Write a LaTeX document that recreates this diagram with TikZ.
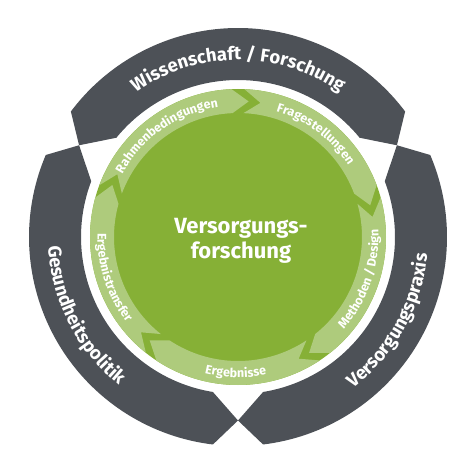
\documentclass[tikz,border=0pt]{standalone}
\usepackage{fontspec}
\setmainfont{Fira Sans}
\usetikzlibrary{decorations.text}
\definecolor{slate}{HTML}{4D5157}
\definecolor{leaf}{HTML}{86B036}
\definecolor{pale}{HTML}{AECB7C}
\newcommand{\ringfont}{\fontsize{18.5}{22}\selectfont\bfseries\color{white}}
\newcommand{\stepfont}{\fontsize{12.5}{14}\selectfont\bfseries\color{white}}
\tikzset{
  ringtext/.style={decorate,decoration={text along path,text align=center,text={|\ringfont|#1}}},
  steptext/.style={decorate,decoration={text along path,text align=center,text={|\stepfont|#1}}}
}
\begin{document}
\begin{tikzpicture}[x=1pt,y=1pt]
  \useasboundingbox (-238,-237) rectangle (236,237);
  % outer ring, three parts
  \foreach \m in {90,210,330}{
    \pgfmathsetmacro{\oa}{\m+60-6.9}
    \pgfmathsetmacro{\ob}{\m-60+6.9}
    \pgfmathsetmacro{\ia}{\m+60-9.2}
    \pgfmathsetmacro{\ib}{\m-60+9.2}
    \pgfmathsetmacro{\ja}{\m+60}
    \pgfmathsetmacro{\jb}{\m-60}
    \fill[slate] (\oa:209) arc[start angle=\oa, end angle=\ob, radius=209]
      -- (\jb:183.5) -- (\ib:157) arc[start angle=\ib, end angle=\ia, radius=157]
      -- (\ja:183.5) -- cycle;
  }
  % green disc and cycle arrows
  \fill[leaf] (0,0) circle[radius=148];
  \foreach \a in {162,90,18,-54,-126}{
    \pgfmathsetmacro{\tailc}{\a-2.5}
    \pgfmathsetmacro{\notch}{\a-9.5}
    \pgfmathsetmacro{\headc}{\a-69.5}
    \pgfmathsetmacro{\headp}{\a-76.5}
    \fill[pale] (\tailc:148) arc[start angle=\tailc, end angle=\headc, radius=148]
      -- (\headp:136) -- (\headc:124) arc[start angle=\headc, end angle=\tailc, radius=124]
      -- (\notch:136) -- cycle;
  }
  \path[steptext=Rahmenbedingungen] (160:131.5) arc[start angle=160, end angle=90, radius=131.5];
  \path[steptext=Fragestellungen] (88:131.5) arc[start angle=88, end angle=18, radius=131.5];
  \path[steptext=Methoden / Design] (-54:140.5) arc[start angle=-54, end angle=16, radius=140.5];
  \path[steptext=Ergebnisse] (-126:140.5) arc[start angle=-126, end angle=-56, radius=140.5];
  \path[steptext=Ergebnistransfer] (162:140.5) arc[start angle=162, end angle=234, radius=140.5];
  % ring labels
  \path[ringtext=Wissenschaft / Forschung] (150:177) arc[start angle=150, end angle=30, radius=177];
  \path[ringtext=Gesundheitspolitik] (147:190) arc[start angle=147, end angle=267, radius=190];
  \path[ringtext=Versorgungspraxis] (-89:190) arc[start angle=-89, end angle=31, radius=190];
  \node[font=\fontsize{22}{25}\selectfont\bfseries, text=white, align=center] (title) at (3,-4) {Versorgungs-\\forschung};
\end{tikzpicture}
\end{document}
